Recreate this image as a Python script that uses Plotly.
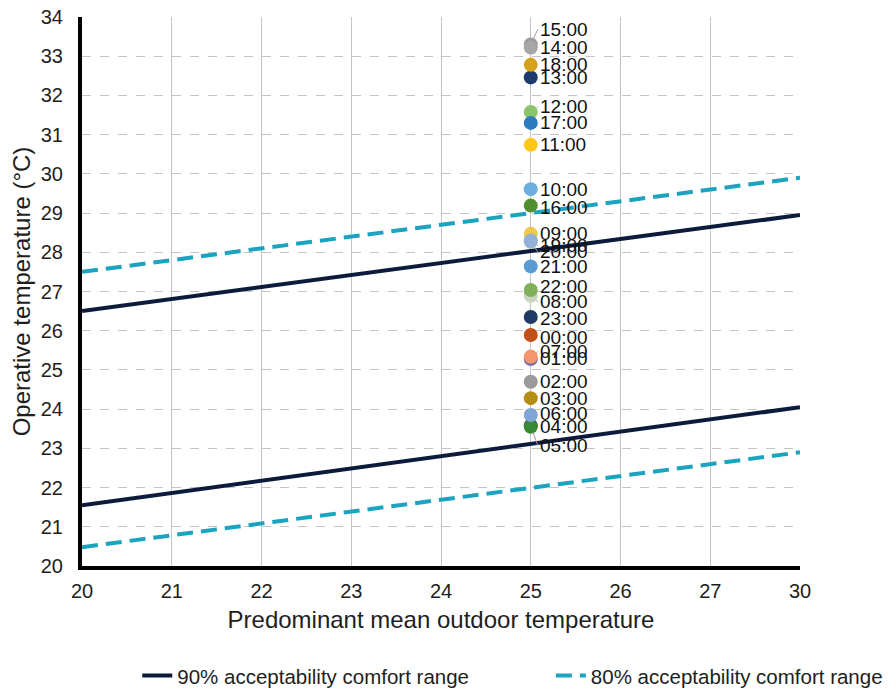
import plotly.graph_objects as go

# ---- data ----
x_categories = ["20", "21", "22", "23", "24", "25", "26", "27", "30"]
line_x = ["20", "30"]
band90_upper = [26.5, 28.95]
band90_lower = [21.55, 24.05]
band80_upper = [27.5, 29.9]
band80_lower = [20.48, 22.9]

point_x = "25"
hours = ["05:00", "15:00", "01:00", "20:00",
         "00:00", "02:00", "03:00", "04:00", "06:00", "07:00", "08:00", "09:00",
         "10:00", "11:00", "12:00", "13:00", "14:00", "16:00", "17:00", "18:00",
         "19:00", "21:00", "22:00", "23:00"]
temps = [23.58, 33.3, 25.28, 28.27,
         25.89, 24.70, 24.28, 23.55, 23.85, 25.34, 26.89, 28.47,
         29.61, 30.74, 31.58, 32.46, 33.22, 29.19, 31.30, 32.78,
         28.30, 27.64, 27.04, 26.35]

# ---- styles ----
hour_colors = {
    "00:00": "#c0501a", "01:00": "#7b6fa6", "02:00": "#9a9a9a", "03:00": "#b48e12",
    "04:00": "#3a8a35", "05:00": "#1f3a68", "06:00": "#7fa6d6", "07:00": "#f4956a",
    "08:00": "#c9d5c2", "09:00": "#f0c84a", "10:00": "#6aaee0", "11:00": "#ffc718",
    "12:00": "#8cc46a", "13:00": "#1c3a6e", "14:00": "#a6a6a6", "15:00": "#9a9a9a",
    "16:00": "#4f8f2f", "17:00": "#2b7bbf", "18:00": "#d6a21a", "19:00": "#92b0d8",
    "20:00": "#aab8cc", "21:00": "#5b9bd5", "22:00": "#7fb05a", "23:00": "#1f3864",
}
# label vertical offsets in pixels (positive = downward)
label_offset = {"15:00": -15, "12:00": -5, "16:00": 2, "19:00": 5, "20:00": 10,
                "22:00": -3, "08:00": 6, "23:00": 2, "00:00": 2, "07:00": -5,
                "06:00": -2, "05:00": 20}

NAVY = "#0c1a3c"
TEAL = "#1ba3bf"
FONT = "Liberation Sans, Arial, sans-serif"
TXT = "#1e1e1e"

fig = go.Figure()

fig.add_trace(go.Scatter(x=line_x, y=band90_upper, mode="lines",
                         line=dict(color=NAVY, width=4),
                         name="90% acceptability comfort range", legend="legend"))
fig.add_trace(go.Scatter(x=line_x, y=band90_lower, mode="lines",
                         line=dict(color=NAVY, width=4), showlegend=False))
fig.add_trace(go.Scatter(x=line_x, y=band80_upper, mode="lines",
                         line=dict(color=TEAL, width=4, dash="16px,8px"),
                         name="80% acceptability comfort range", legend="legend2"))
fig.add_trace(go.Scatter(x=line_x, y=band80_lower, mode="lines",
                         line=dict(color=TEAL, width=4, dash="16px,8px"),
                         showlegend=False))

point_index = x_categories.index(point_x)  # category axes place annotations by serial number
for h, t in zip(hours, temps):
    fig.add_trace(go.Scatter(x=[point_x], y=[t], mode="markers",
                             marker=dict(size=14, color=hour_colors[h], line=dict(width=0)),
                             showlegend=False, name=h))
    fig.add_annotation(x=point_index, y=t, text=h, showarrow=True, arrowhead=0,
                       arrowwidth=1, arrowcolor="#a0a0a0", standoff=7,
                       ax=7, ay=label_offset.get(h, 0), xanchor="left", yanchor="middle",
                       font=dict(family=FONT, size=19, color="#111111"))

legend_style = dict(orientation="h", yanchor="middle", xanchor="left",
                    font=dict(family=FONT, size=20.5, color=TXT),
                    bgcolor="rgba(0,0,0,0)")
fig.update_layout(
    width=896, height=693, autosize=False,
    margin=dict(l=82, r=96, t=17, b=127, autoexpand=False),
    paper_bgcolor="white", plot_bgcolor="white",
    font=dict(family=FONT, color=TXT),
    showlegend=True,
    legend=dict(x=0.077, y=-0.2, **legend_style),
    legend2=dict(x=0.653, y=-0.2, **legend_style),
)
fig.update_xaxes(type="category", categoryorder="array", categoryarray=x_categories,
                 range=[0, len(x_categories) - 1], automargin=False,
                 showgrid=True, gridcolor="#c4c4c4", gridwidth=1,
                 showline=True, linecolor="black", linewidth=4,
                 zeroline=False, ticks="", ticklabelstandoff=4, ticklabeloverflow="allow",
                 tickfont=dict(family=FONT, size=20, color=TXT),
                 title=dict(text="Predominant mean outdoor temperature",
                            font=dict(family=FONT, size=24, color=TXT), standoff=11))
fig.update_yaxes(range=[20, 34], dtick=1, tick0=20, automargin=False,
                 showgrid=True, gridcolor="#c4c4c4", gridwidth=1, griddash="dash",
                 showline=True, linecolor="black", linewidth=4,
                 zeroline=False, ticks="", ticklabelstandoff=11, ticklabeloverflow="allow",
                 tickfont=dict(family=FONT, size=20, color=TXT),
                 title=dict(text="Operative temperature (°C)",
                            font=dict(family=FONT, size=24, color=TXT), standoff=4))

# remove the browser's default body margin so the figure sits at the page's corner
fig.write_html("out.html", config={"displayModeBar": False},
               post_script="document.body.style.margin='0px';")
